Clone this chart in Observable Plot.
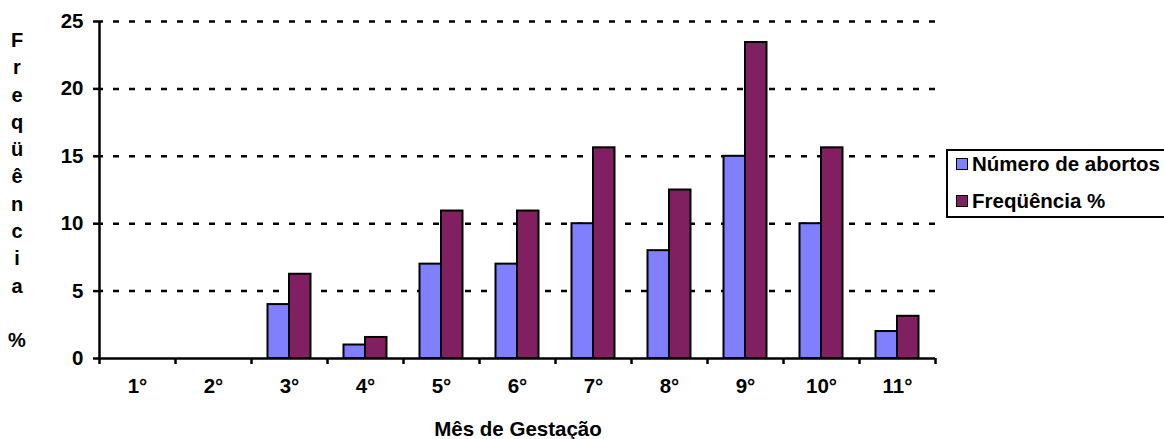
<!DOCTYPE html>
<html>
<head>
<meta charset="utf-8">
<script src="https://cdn.jsdelivr.net/npm/d3@7"></script>
<script src="https://cdn.jsdelivr.net/npm/@observablehq/plot@0.6"></script>
<style>
  html, body { margin: 0; padding: 0; background: #fff; }
  body { font-family: "Liberation Sans", Arial, sans-serif; font-weight: bold; color: #000; }
  #wrap { position: relative; width: 1164px; height: 439px; overflow: hidden; }
  #ylabel { position: absolute; left: 7px; top: 27px; width: 20px; text-align: center; font-size: 20px; line-height: 27.3px; }
  #xlabel { position: absolute; left: 418px; width: 200px; top: 419px; text-align: center; font-size: 20.5px; line-height: 20px; white-space: nowrap; }
  #legend { position: absolute; left: 946px; top: 149px; width: 240px; height: 65px; border: 2px solid #000; box-sizing: content-box; }
  .item { position: absolute; left: 8px; font-size: 20.5px; line-height: 20px; white-space: nowrap; display: flex; align-items: center; }
  .sw { width: 10px; height: 10px; border: 1.5px solid #000; margin-right: 4px; }
</style>
</head>
<body>
<div id="wrap">
  <div id="chart"></div>
  <div id="ylabel"></div>
  <div id="xlabel"></div>
  <div id="legend"></div>
</div>
<script>
const months = ["1°","2°","3°","4°","5°","6°","7°","8°","9°","10°","11°"];
const abortos = [0, 0, 4, 1, 7, 7, 10, 8, 15, 10, 2];
const frequencia = [0, 0, 6.25, 1.56, 10.94, 10.94, 15.63, 12.5, 23.44, 15.63, 3.13];
const seriesNames = ["Número de abortos", "Freqüência %"];
const seriesColors = ["#8080FF", "#802060"];
const yTicks = [0, 5, 10, 15, 20, 25];
const yTitle = "Freqüência %";
const xTitle = "Mês de Gestação";

const W = 1164, H = 439, ML = 99, MR = 229, MT = 21, MB = 81;
const bw = (W - ML - MR) / months.length;
const grp = 43;
const off = (bw - grp) / 2;
const barW = grp / 2;

const rows = [];
months.forEach((m, i) => {
  rows.push({month: m, series: seriesNames[0], value: abortos[i]});
  rows.push({month: m, series: seriesNames[1], value: frequencia[i]});
});

const font = "Liberation Sans, Arial, sans-serif";
const plot = Plot.plot({
  width: W, height: H,
  marginLeft: ML, marginRight: MR, marginTop: MT, marginBottom: MB,
  style: {fontFamily: font, fontWeight: "bold", color: "#000", background: "#fff", overflow: "visible"},
  x: {domain: months, padding: 0, axis: null},
  y: {domain: [0, 25], axis: null},
  marks: [
    Plot.ruleY(yTicks.filter(d => d > 0), {y: d => d, stroke: "#000", strokeWidth: 2.5, strokeDasharray: "6,10", strokeDashoffset: 2}),
    Plot.barY(rows.filter(r => r.series === seriesNames[0]), {x: "month", y: "value", fill: seriesColors[0], stroke: "#000", strokeWidth: 2, insetLeft: off, insetRight: bw - off - barW}),
    Plot.barY(rows.filter(r => r.series === seriesNames[1]), {x: "month", y: "value", fill: seriesColors[1], stroke: "#000", strokeWidth: 2, insetLeft: off + barW, insetRight: off}),
    Plot.ruleY([0], {stroke: "#000", strokeWidth: 2.5}),
    Plot.ruleX([months[0]], {x: d => d, dx: -bw / 2, stroke: "#000", strokeWidth: 2.5}),
    Plot.ruleX(months, {x: d => d, dx: -bw / 2, stroke: "#000", strokeWidth: 2.5, insetTop: H - MT - MB, insetBottom: -6}),
    Plot.ruleX([months[months.length - 1]], {x: d => d, dx: bw / 2, stroke: "#000", strokeWidth: 2.5, insetTop: H - MT - MB, insetBottom: -6}),
    Plot.axisY(yTicks, {tickSize: 6, tickPadding: 10, fontSize: 20.5, fontWeight: "bold", label: null, stroke: "#000", strokeWidth: 2.5}),
    Plot.axisX({tickSize: 0, tickPadding: 20, fontSize: 20.5, fontWeight: "bold", label: null})
  ]
});
document.getElementById("chart").appendChild(plot);

// vertical y-title, one letter per line
const yl = document.getElementById("ylabel");
yl.innerHTML = Array.from(yTitle).map(c => c === " " ? "&nbsp;" : c).join("<br>");
document.getElementById("xlabel").textContent = xTitle;

const lg = document.getElementById("legend");
seriesNames.forEach((s, i) => {
  const it = document.createElement("div");
  it.className = "item";
  it.style.top = (i === 0 ? 3 : 40) + "px";
  it.innerHTML = `<span class="sw" style="background:${seriesColors[i]}"></span>${s}`;
  lg.appendChild(it);
});
</script>
</body>
</html>
